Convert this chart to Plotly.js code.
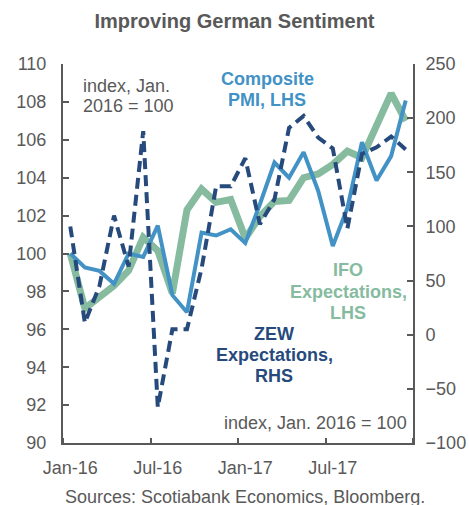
<!DOCTYPE html>
<html>
<head>
<meta charset="utf-8">
<script src="https://cdn.plot.ly/plotly-3.0.1.min.js"></script>
<style>html,body{margin:0;padding:0;background:#fff;}#chart{width:469px;height:505px;}</style>
</head>
<body>
<div id="chart"></div>
<script>
// ---- data (index, Jan. 2016 = 100) ----
const months = ["Jan-16","Feb-16","Mar-16","Apr-16","May-16","Jun-16","Jul-16","Aug-16","Sep-16","Oct-16","Nov-16","Dec-16",
                "Jan-17","Feb-17","Mar-17","Apr-17","May-17","Jun-17","Jul-17","Aug-17","Sep-17","Oct-17","Nov-17","Dec-17"];
const pmi = [100, 99.27, 99.08, 98.4, 100, 99.82, 101.47, 97.8, 96.9, 101.1, 100.95, 101.28,
             100.55, 102.6, 104.8, 104.0, 105.35, 103.3, 100.4, 102.4, 105.87, 103.85, 105.14, 108.07];
const ifo = [100, 97.1, 97.7, 98.3, 99.1, 100.85, 100.15, 97.9, 102.3, 103.4, 102.7, 102.85,
             100.8, 101.95, 102.75, 102.8, 104.0, 104.2, 104.7, 105.4, 105.05, 106.85, 108.45, 107.0];
const zew = [100, 11, 45, 110, 63, 188, -67, 5, 5, 61, 137, 137,
             163, 102, 125, 191, 202, 182, 172, 98, 167, 173, 183, 171];
const xTickMonths = ["Jan-16","Jul-16","Jan-17","Jul-17"];

const xIdx = months.map((m, i) => i);
const FONT = "Liberation Sans, Arial, sans-serif";
const GRAY = "#595959";
const BLUE = "#4292c6";
const GREEN = "#86bba0";
const NAVY = "#264a7b";

const PL = 63, PR = 413, PT = 64, PB = 443;
const px = x => (x - PL) / (PR - PL);
const py = y => (PB - y) / (PB - PT);

const traces = [
  {x: xIdx, y: ifo, type: "scatter", mode: "lines", name: "IFO",
   line: {color: GREEN, width: 7}, yaxis: "y"},
  {x: xIdx, y: pmi, type: "scatter", mode: "lines", name: "PMI",
   line: {color: BLUE, width: 4}, yaxis: "y"},
  {x: xIdx, y: zew, type: "scatter", mode: "lines", name: "ZEW",
   line: {color: NAVY, width: 4, dash: "11px,6px"}, yaxis: "y2"}
];

function lines(arr, x, ys, anchor, color, bold) {
  return arr.map((t, i) => ({
    text: bold ? "<b>" + t + "</b>" : t,
    xref: "paper", yref: "paper", x: px(x), y: py(ys[i]),
    xanchor: anchor, yanchor: "middle", showarrow: false,
    font: {family: FONT, size: 18, color: color}
  }));
}

const annotations = [].concat(
  lines(["index, Jan.", "2016 = 100"], 81, [86, 106], "left", GRAY, false),
  lines(["Composite", "PMI, LHS"], 267, [79, 100], "center", BLUE, true),
  lines(["IFO", "Expectations,", "LHS"], 348, [270, 292, 313], "center", GREEN, true),
  lines(["ZEW", "Expectations,", "RHS"], 274, [334, 355, 376], "center", NAVY, true),
  lines(["index, Jan. 2016 = 100"], 409, [423], "right", GRAY, false),
  lines(["Sources: Scotiabank Economics, Bloomberg."], 245, [497], "center", GRAY, false)
);

const layout = {
  width: 469, height: 505,
  margin: {l: PL, r: 469 - PR, t: PT, b: 505 - PB, pad: 0},
  paper_bgcolor: "#fff", plot_bgcolor: "#fff",
  showlegend: false,
  font: {family: FONT, color: GRAY, size: 18},
  title: {text: "<b>Improving German Sentiment</b>", x: 0.5, xref: "container",
          y: 1 - 21 / 505, yref: "container", yanchor: "middle",
          font: {family: FONT, size: 20, color: GRAY}},
  xaxis: {
    range: [-0.5, months.length - 0.5],
    tickmode: "array",
    tickvals: xTickMonths.map(m => months.indexOf(m)),
    ticktext: xTickMonths,
    ticks: "", showgrid: false, zeroline: false,
    showline: true, linecolor: GRAY, linewidth: 2,
    ticklabelstandoff: 7,
    tickfont: {family: FONT, size: 18, color: GRAY},
    minor: {tick0: -0.5, dtick: 6, ticks: "inside", ticklen: 5, tickwidth: 2, tickcolor: GRAY, showgrid: false}
  },
  yaxis: {
    range: [90, 110], dtick: 2, tick0: 90,
    ticks: "inside", ticklen: 6, tickwidth: 2, tickcolor: GRAY,
    showgrid: false, zeroline: false,
    showline: true, linecolor: GRAY, linewidth: 2,
    ticklabelstandoff: 11,
    tickfont: {family: FONT, size: 18, color: GRAY}
  },
  yaxis2: {
    range: [-100, 250], dtick: 50, tick0: -100,
    overlaying: "y", side: "right",
    ticks: "inside", ticklen: 6, tickwidth: 2, tickcolor: GRAY,
    showgrid: false, zeroline: false,
    showline: true, linecolor: GRAY, linewidth: 2,
    ticklabelstandoff: 7,
    tickfont: {family: FONT, size: 18, color: GRAY}
  },
  annotations: annotations
};

Plotly.newPlot("chart", traces, layout, {displayModeBar: false, staticPlot: true});
</script>
</body>
</html>
